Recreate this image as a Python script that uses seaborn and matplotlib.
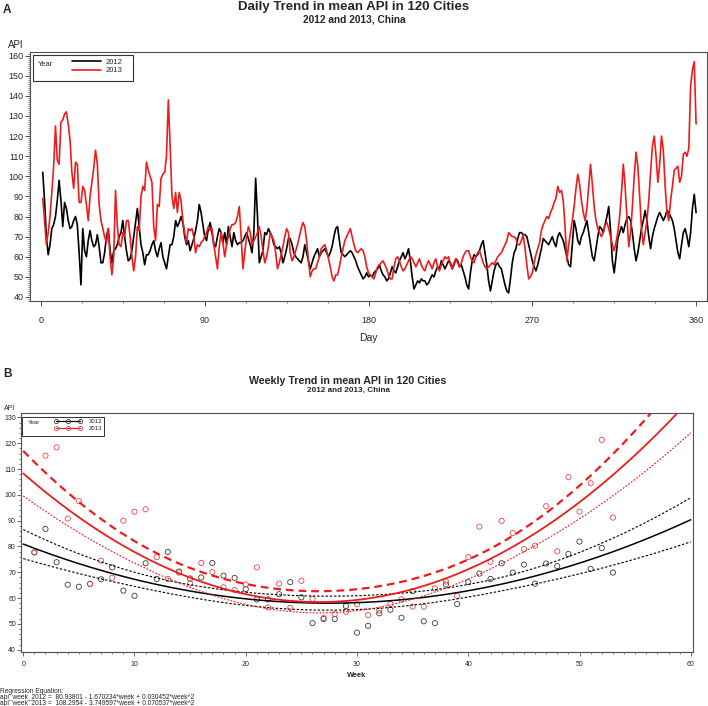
import numpy as np
import pandas as pd
import matplotlib
matplotlib.use('Agg')
import matplotlib.pyplot as plt
import seaborn as sns
from matplotlib.lines import Line2D
from matplotlib.patches import Rectangle
from matplotlib.ticker import MultipleLocator

# ---- data ----
years = [2012, 2013]
days = np.arange(1, 361)

api_2012 = [
    102, 88, 70, 61, 66, 74, 76, 80, 88, 98,
    88, 75, 87, 84, 78, 74, 75, 78, 80, 76,
    62, 46, 74, 63, 60, 68, 73, 68, 65, 66,
    71, 65, 57, 57, 62, 70, 74, 63, 57, 63,
    64, 66, 70, 72, 78, 70, 63, 58, 59, 63,
    70, 77, 84, 75, 66, 62, 56, 61, 61, 63,
    66, 68, 63, 60, 64, 67, 60, 57, 54, 60,
    66, 66, 70, 78, 75, 77, 80, 77, 70, 66,
    68, 63, 66, 69, 73, 78, 86, 82, 76, 70,
    68, 74, 77, 72, 66, 65, 70, 74, 72, 67,
    72, 66, 75, 70, 65, 72, 68, 66, 67, 67,
    68, 70, 72, 69, 66, 62, 72, 99, 80, 57,
    60, 63, 72, 71, 74, 72, 70, 66, 65, 64,
    65, 62, 57, 60, 64, 69, 69, 66, 62, 60,
    59, 58, 57, 60, 66, 62, 58, 54, 57, 60,
    62, 64, 60, 62, 63, 64, 62, 60, 62, 65,
    70, 74, 75, 68, 62, 61, 60, 61, 62, 63,
    62, 60, 58, 55, 53, 51, 49, 50, 52, 50,
    51, 50, 52, 53, 54, 56, 53, 51, 50, 48,
    49, 52, 55, 53, 52, 55, 58, 60, 62, 59,
    61, 64, 58, 50, 44, 46, 48, 47, 49, 48,
    48, 46, 47, 49, 51, 50, 53, 55, 54, 58,
    56, 54, 56, 58, 57, 54, 56, 59, 58, 55,
    56, 53, 50, 46, 44, 52, 58, 61, 60, 61,
    63, 66, 68, 62, 56, 48, 43, 48, 53, 56,
    57, 55, 54, 50, 46, 43, 42, 49, 57, 62,
    64, 69, 72, 72, 71, 71, 70, 66, 62, 58,
    55, 53, 56, 60, 64, 69, 68, 67, 66, 68,
    70, 67, 65, 70, 72, 70, 68, 64, 60, 56,
    55, 66, 78, 74, 68, 66, 70, 72, 75, 78,
    72, 66, 60, 58, 64, 70, 75, 74, 72, 76,
    80, 85, 73, 58, 52, 60, 69, 72, 75, 72,
    76, 79, 80, 78, 72, 64, 58, 62, 68, 74,
    78, 83, 78, 70, 64, 70, 74, 77, 80, 82,
    80, 78, 80, 83, 82, 80, 78, 74, 68, 62,
    59, 66, 72, 74, 70, 65, 72, 84, 91, 82,
]

api_2013 = [
    89, 78, 66, 72, 80, 92, 105, 125, 108, 106,
    127, 128, 131, 132, 126, 118, 102, 94, 107, 106,
    87, 87, 95, 93, 86, 78, 90, 97, 104, 113,
    106, 86, 78, 74, 70, 67, 74, 60, 51, 60,
    93, 75, 66, 65, 72, 70, 78, 78, 70, 60,
    53, 60, 75, 73, 90, 95, 93, 107, 103, 100,
    97, 75, 68, 86, 85, 99, 101, 102, 110, 138,
    115, 90, 84, 92, 82, 92, 88, 78, 72, 67,
    74, 73, 74, 70, 62, 66, 65, 67, 68, 70,
    72, 75, 73, 74, 66, 60, 54, 65, 72, 67,
    60, 66, 70, 74, 76, 76, 77, 80, 85, 70,
    54, 62, 70, 75, 72, 66, 68, 70, 72, 75,
    70, 63, 57, 60, 65, 72, 70, 68, 62, 54,
    57, 61, 65, 70, 74, 72, 62, 58, 60, 63,
    66, 70, 74, 77, 75, 68, 58, 50, 53, 54,
    54, 57, 60, 64, 65, 66, 63, 59, 55, 50,
    48, 51, 51, 55, 60, 64, 68, 70, 72, 74,
    70, 66, 63, 62, 63, 64, 63, 60, 55, 52,
    51, 50, 49, 52, 55, 56, 57, 58, 56, 54,
    51, 49, 49, 55, 59, 60, 58, 55, 53, 54,
    56, 58, 60, 59, 57, 55, 57, 59, 56, 54,
    53, 56, 58, 56, 54, 57, 59, 55, 53, 56,
    58, 60, 59, 60, 56, 54, 57, 59, 57, 55,
    57, 60, 62, 63, 63, 60, 58, 57, 60, 62,
    63, 60, 57, 55, 54, 55, 56, 57, 56, 58,
    60, 61, 62, 64, 66, 68, 72, 71, 70, 70,
    69, 66, 66, 68, 71, 64, 56, 49, 50, 52,
    57, 61, 64, 67, 73, 76, 78, 80, 79, 82,
    84, 87, 89, 95, 92, 93, 88, 75, 58, 66,
    72, 78, 85, 94, 101, 96, 88, 82, 78, 84,
    95, 106, 96, 85, 78, 74, 72, 70, 72, 76,
    77, 74, 70, 66, 63, 67, 72, 80, 92, 106,
    95, 80, 65, 72, 85, 100, 112, 105, 90, 74,
    66, 72, 78, 88, 102, 115, 120, 110, 97, 106,
    120, 113, 95, 82, 78, 88, 95, 103, 104, 105,
    97, 100, 111, 112, 110, 114, 145, 153, 157, 126,
]

weeks = np.arange(1, 54)
week_api_2012 = [
    77.7, 86.8, 73.9, 65.2, 64.4, 65.5, 67.3, 71.9, 62.9, 60.9,
    73.5, 67.4, 77.9, 70.3, 67.6, 68.0, 73.6, 68.7, 67.8, 63.5,
    59.5, 59.5, 61.5, 66.2, 60.3, 50.3, 51.9, 51.9, 56.9, 46.6,
    49.3, 54.1, 55.5, 52.4, 62.7, 51.0, 50.3, 65.3, 57.7, 66.2,
    69.5, 67.4, 73.5, 69.9, 73.0, 65.6, 73.4, 72.4, 77.1, 81.9,
    71.3, 79.4, 69.9,
]
week_api_2013 = [
    77.7, 115.2, 118.4, 90.8, 97.6, 65.5, 74.5, 67.9, 90.0, 93.5,
    94.4, 75.9, 67.4, 69.9, 65.7, 73.6, 70.1, 64.2, 63.1, 65.3,
    71.9, 56.4, 65.6, 56.2, 66.7, 59.7, 52.3, 53.8, 54.7, 57.6,
    53.4, 55.2, 57.7, 59.5, 56.7, 56.7, 63.8, 66.4, 60.9, 75.9,
    87.7, 74.0, 89.9, 85.2, 79.0, 80.3, 95.6, 78.1, 106.9, 93.5,
    104.5, 121.3, 91.2,
]

# regression equations printed under panel B
coef_2012 = [80.93801, -1.670234, 0.030452]
coef_2013 = [108.2954, -3.749597, 0.070537]
equation_lines = [
    'Regression Equation:',
    'api_week_2012 =  80.93801 - 1.670234*week + 0.030452*week^2',
    'api_week_2013 =  108.2954 - 3.749597*week + 0.070537*week^2',
]

line_colors = {2012: 'black', 2013: '#ee1c1c'}
point_colors = {2012: '#3a3a3a', 2013: '#e8474a'}
SPINE = '#505050'

W, H = 708, 706
def fx(px):
    return px / W
def fy(py):
    return 1 - py / H

sns.set_style('ticks')
plt.rcParams['font.family'] = ['Liberation Sans', 'DejaVu Sans']

fig = plt.figure(figsize=(7.08, 7.06), dpi=100)
axA = fig.add_axes([fx(30), fy(301), 677 / W, 249 / H])
axB = fig.add_axes([fx(21), fy(652.3), 672 / W, 239 / H])

# ---------------- Panel A: daily ----------------
daily = pd.DataFrame({
    'Day': np.concatenate([days, days]),
    'API': api_2012 + api_2013,
    'Year': [2012] * len(api_2012) + [2013] * len(api_2013),
})
sns.lineplot(data=daily, x='Day', y='API', hue='Year', hue_order=years,
             palette=line_colors, lw=1.2, estimator=None, legend=False, ax=axA)

axA.set_xlim(-6, 366)
axA.set_ylim(38, 161.8)
axA.xaxis.set_major_locator(MultipleLocator(90))
axA.xaxis.set_minor_locator(MultipleLocator(22.5))
axA.yaxis.set_major_locator(MultipleLocator(10))
axA.yaxis.set_minor_locator(MultipleLocator(1))
axA.set_xlabel('')
axA.set_ylabel('')
axA.tick_params(axis='both', which='major', labelsize=6.5, length=3.5, width=0.7, color=SPINE)
axA.tick_params(axis='both', which='minor', length=1.6, width=0.5, color=SPINE)
axA.tick_params(axis='x', which='major', pad=7)
axA.tick_params(axis='y', which='major', pad=1.2)
for s in axA.spines.values():
    s.set_color(SPINE)
    s.set_linewidth(0.8)

# legend A: framed box with "Year" to the left of the entries
fig.patches.append(Rectangle((fx(33), fy(81)), fx(133) - fx(33), fy(55) - fy(81),
                             transform=fig.transFigure, fill=False, edgecolor='#333333', lw=0.8))
fig.text(fx(38), fy(64), 'Year', fontsize=5.5, va='center')
axA.legend(handles=[Line2D([], [], color=line_colors[y], lw=1.2) for y in years],
           labels=[str(y) for y in years], loc='upper left',
           bbox_to_anchor=(fx(72), fy(58.5)), bbox_transform=fig.transFigure,
           frameon=False, fontsize=5.5, handlelength=3.8, handletextpad=0.6,
           labelspacing=0.15, borderpad=0, borderaxespad=0)

fig.text(fx(3), fy(13.3), 'A', fontsize=8.5, fontweight='bold')
fig.text(fx(354), fy(10), 'Daily Trend in mean API in 120 Cities', ha='center',
         fontsize=9.5, fontweight='bold')
fig.text(fx(354), fy(22), '2012 and 2013, China', ha='center', fontsize=7.3, fontweight='bold')
fig.text(fx(8), fy(48.3), 'API', fontsize=7)
fig.text(fx(368), fy(338), 'Day', ha='center', va='center', fontsize=7.5)

# ---------------- Panel B: weekly ----------------
weekly = pd.DataFrame({
    'Week': np.concatenate([weeks, weeks]),
    'API': week_api_2012 + week_api_2013,
    'Year': [2012] * len(week_api_2012) + [2013] * len(week_api_2013),
})
sns.scatterplot(data=weekly, x='Week', y='API', hue='Year', hue_order=years,
                palette=point_colors, s=14, linewidth=0.6, legend=False, ax=axB)
pts = axB.collections[0]
pts.set_edgecolors(pts.get_facecolors())
pts.set_facecolors('none')

def quad_band(w, y, coef, grid, t=2.01):
    # fitted quadratic and 95% limits for the mean
    w = np.asarray(w, float)
    y = np.asarray(y, float)
    X = np.column_stack([np.ones_like(w), w, w ** 2])
    b = np.asarray(coef)
    resid = y - X @ b
    s2 = (resid ** 2).sum() / (len(y) - 3)
    xtx_inv = np.linalg.inv(X.T @ X)
    G = np.column_stack([np.ones_like(grid), grid, grid ** 2])
    se = np.sqrt(s2 * np.einsum('ij,jk,ik->i', G, xtx_inv, G))
    fit = G @ b
    return fit, fit - t * se, fit + t * se

grid = np.linspace(0, 60, 301)
fit12, lo12, hi12 = quad_band(weeks, week_api_2012, coef_2012, grid)
fit13, lo13, hi13 = quad_band(weeks, week_api_2013, coef_2013, grid)

dot = (0, (2.2, 1.6))
axB.plot(grid, lo12, color='black', lw=0.8, ls=dot)
axB.plot(grid, hi12, color='black', lw=0.8, ls=dot)
axB.plot(grid, fit12, color='black', lw=1.1)
axB.plot(grid, lo13, color=line_colors[2013], lw=0.8, ls=(0, (1.6, 1.4)))
axB.plot(grid, hi13, color=line_colors[2013], lw=1.6, ls=(0, (3.5, 2.2)))
axB.plot(grid, fit13, color=line_colors[2013], lw=1.3)

axB.set_xlim(-0.2, 60.2)
axB.set_ylim(39, 131.6)
axB.xaxis.set_major_locator(MultipleLocator(10))
axB.xaxis.set_minor_locator(MultipleLocator(1))
axB.yaxis.set_major_locator(MultipleLocator(10))
axB.yaxis.set_minor_locator(MultipleLocator(2))
axB.set_xlabel('')
axB.set_ylabel('')
axB.tick_params(axis='both', which='major', labelsize=5, length=3, width=0.6, color=SPINE)
axB.tick_params(axis='both', which='minor', length=1.5, width=0.5, color=SPINE)
axB.tick_params(axis='x', which='major', pad=3)
axB.tick_params(axis='y', which='major', pad=0.6)
for s in axB.spines.values():
    s.set_color(SPINE)
    s.set_linewidth(0.8)

# legend B
fig.patches.append(Rectangle((fx(22), fy(435.7)), fx(104.3) - fx(22), fy(416.7) - fy(435.7),
                             transform=fig.transFigure, fill=False, edgecolor='#333333', lw=0.7))
fig.text(fx(28), fy(422), 'Year', fontsize=4.3, va='center')
axB.legend(handles=[Line2D([], [], color=line_colors[y], lw=0.9, marker='o', ms=3,
                           mfc='none', mec=point_colors[y], mew=0.6) for y in years],
           labels=[str(y) for y in years], loc='upper left', numpoints=3,
           bbox_to_anchor=(fx(54.5), fy(418.5)), bbox_transform=fig.transFigure,
           frameon=False, fontsize=4.3, handlelength=4.5, handletextpad=1.2,
           labelspacing=0.35, borderpad=0, borderaxespad=0)

fig.text(fx(3), fy(376.7), 'B', fontsize=8.5, fontweight='bold')
fig.text(fx(348), fy(383.5), 'Weekly Trend in mean API in 120 Cities', ha='center',
         fontsize=7.7, fontweight='bold')
fig.text(fx(348), fy(391.7), '2012 and 2013, China', ha='center', fontsize=5.9, fontweight='bold')
fig.text(fx(4), fy(410.5), 'API', fontsize=5)
fig.text(fx(357), fy(675.7), 'Week', ha='center', va='center', fontsize=5.3, fontweight='bold')

fig.text(fx(0.5), fy(697.7), '\n'.join(equation_lines), fontsize=4.8, va='center',
         linespacing=0.78)

fig.savefig('out.png', dpi=100)
